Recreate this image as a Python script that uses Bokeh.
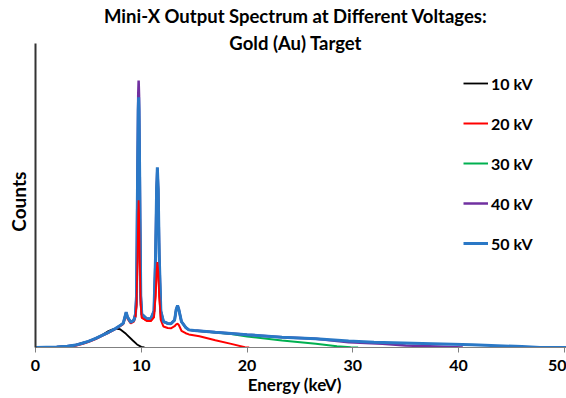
from bokeh.plotting import figure
from bokeh.models import Range1d, Legend, LegendItem, Label, FixedTicker
from bokeh.embed import file_html
from bokeh.resources import INLINE

# ---- data (energy in keV, counts in arbitrary units) ----
e_10kv = [0.0, 1.0, 2.0, 3.0, 3.8, 4.5, 5.0, 5.7, 6.3, 6.9, 7.3, 7.6, 8.0, 8.55, 9.2, 9.6, 10.0, 10.3]
c_10kv = [0.0, 0.1, 0.2, 0.4, 0.8, 1.5, 2.0, 3.0, 4.1, 5.4, 6.0, 6.2, 6.0, 4.5, 2.3, 1.0, 0.2, 0.0]

e_20kv = [0.0, 1.0, 2.0, 3.0, 3.8, 4.5, 5.0, 5.7, 6.3, 6.9, 7.6, 8.0, 8.3, 8.45, 8.57, 8.7, 9.0, 9.3,
          9.45, 9.55, 9.65, 9.71, 9.75, 9.79, 9.85, 9.95, 10.05, 10.5, 10.9, 11.2, 11.35, 11.45, 11.52,
          11.6, 11.7, 11.85, 12.1, 12.5, 12.8, 13.15, 13.3, 13.43, 13.55, 13.8, 14.2, 14.5, 15.5, 17.0,
          18.5, 19.8, 20.2]
c_20kv = [0.0, 0.0, 0.1, 0.2, 0.6, 1.2, 1.8, 2.8, 3.8, 4.8, 6.1, 7.0, 7.7, 9.5, 11.0, 9.5, 7.9, 8.5,
          10.0, 14.0, 30.0, 44.0, 48.4, 44.0, 30.0, 14.0, 9.8, 8.8, 8.7, 10.0, 17.0, 25.0, 28.1,
          25.0, 17.0, 9.0, 6.9, 6.4, 6.3, 7.0, 7.6, 7.8, 7.4, 5.5, 4.7, 4.3, 3.7, 2.4,
          1.2, 0.1, 0.0]

e_30kv = [0.0, 1.0, 2.0, 3.0, 3.8, 4.5, 5.0, 5.7, 6.3, 6.9, 7.6, 8.0, 8.3, 8.45, 8.57, 8.7, 9.0, 9.3,
          9.45, 9.55, 9.65, 9.71, 9.75, 9.79, 9.85, 9.95, 10.05, 10.5, 10.9, 11.2, 11.35, 11.45, 11.52,
          11.6, 11.7, 11.85, 12.1, 12.5, 12.8, 13.15, 13.3, 13.43, 13.55, 13.8, 14.2, 14.5, 15.0, 17.0,
          18.5, 20.0, 23.3, 26.5, 28.5, 29.8, 30.5]
c_30kv = [0.0, 0.1, 0.2, 0.4, 0.8, 1.5, 2.0, 3.0, 4.0, 5.0, 6.3, 7.2, 8.0, 10.0, 11.5, 10.0, 8.3, 9.0,
          11.0, 17.0, 55.0, 76.0, 80.0, 76.0, 55.0, 17.0, 11.0, 9.5, 9.4, 12.0, 30.0, 52.0, 58.0,
          52.0, 30.0, 12.0, 8.5, 7.9, 7.8, 9.0, 12.5, 13.5, 12.5, 8.5, 6.6, 5.8, 5.6, 4.9,
          4.4, 3.6, 2.3, 1.2, 0.4, 0.05, 0.0]

e_40kv = [0.0, 1.0, 2.0, 3.0, 3.8, 4.5, 5.0, 5.7, 6.3, 6.9, 7.6, 8.0, 8.3, 8.45, 8.57, 8.7, 9.0, 9.3,
          9.45, 9.55, 9.65, 9.71, 9.75, 9.79, 9.85, 9.95, 10.05, 10.5, 10.9, 11.2, 11.35, 11.45, 11.52,
          11.6, 11.7, 11.85, 12.1, 12.5, 12.8, 13.15, 13.3, 13.43, 13.55, 13.8, 14.2, 14.5, 15.0, 17.0,
          20.0, 23.3, 26.5, 29.6, 32.8, 35.0, 38.0, 40.4]
c_40kv = [0.0, 0.1, 0.2, 0.4, 0.8, 1.5, 2.0, 3.0, 4.0, 5.0, 6.3, 7.2, 8.0, 10.0, 11.6, 10.0, 8.3, 9.0,
          11.0, 17.0, 60.0, 83.0, 87.8, 83.0, 60.0, 17.0, 11.0, 9.5, 9.4, 12.0, 30.0, 52.0, 59.0,
          52.0, 30.0, 12.0, 8.5, 7.9, 7.8, 9.0, 12.5, 13.8, 12.5, 8.5, 6.6, 5.8, 5.6, 5.0,
          4.2, 3.4, 2.85, 1.7, 1.2, 0.66, 0.3, 0.0]

e_50kv = [0.0, 1.0, 2.0, 3.0, 3.8, 4.5, 5.0, 5.7, 6.3, 6.9, 7.6, 8.0, 8.3, 8.45, 8.57, 8.7, 9.0, 9.3,
          9.45, 9.55, 9.65, 9.71, 9.75, 9.79, 9.85, 9.95, 10.05, 10.5, 10.9, 11.2, 11.35, 11.45, 11.52,
          11.6, 11.7, 11.85, 12.1, 12.5, 12.8, 13.15, 13.3, 13.43, 13.55, 13.8, 14.2, 14.5, 15.0, 17.0,
          20.0, 23.3, 26.5, 29.6, 32.0, 36.6, 41.3, 46.0, 47.7, 52.0]
c_50kv = [0.0, 0.1, 0.2, 0.4, 0.8, 1.5, 2.0, 3.0, 4.0, 5.0, 6.3, 7.2, 8.0, 10.0, 11.6, 10.0, 8.3, 9.0,
          11.0, 17.0, 56.0, 78.0, 82.3, 78.0, 56.0, 17.0, 11.0, 9.5, 9.4, 12.0, 30.0, 52.0, 59.3,
          52.0, 30.0, 12.0, 8.5, 7.9, 7.8, 9.0, 12.5, 13.8, 12.5, 8.5, 6.6, 5.8, 5.6, 5.0,
          4.2, 3.4, 2.9, 2.1, 1.7, 1.3, 0.9, 0.3, 0.0, 0.0]

series_labels = ["10 kV", "20 kV", "30 kV", "40 kV", "50 kV"]
x_ticks = [0, 10, 20, 30, 40, 50]
title_lines = ["Mini-X Output Spectrum at Different Voltages:", "Gold (Au) Target"]

FONT = "Lato"

p = figure(width=566, height=398, output_backend="svg", toolbar_location=None,
           x_range=Range1d(0, 50.2), y_range=Range1d(0, 114.14),
           min_border_left=35, min_border_right=0, min_border_top=0, min_border_bottom=51)
p.outline_line_color = None
p.xgrid.visible = False
p.ygrid.visible = False
p.background_fill_color = "white"

r10 = p.line(e_10kv, c_10kv, line_color="#000000", line_width=1.8)
r20 = p.line(e_20kv, c_20kv, line_color="#FF0000", line_width=2)
r30 = p.line(e_30kv, c_30kv, line_color="#00B050", line_width=2)
r40 = p.line(e_40kv, c_40kv, line_color="#7030A0", line_width=2.5)
r50 = p.line(e_50kv, c_50kv, line_color="#2A78C6", line_width=3)
# the 20 kV fluorescence peaks show in front of the other curves
p.line(e_20kv[18:36], c_20kv[18:36], line_color="#FF0000", line_width=1.8)

# axes
xa = p.xaxis[0]
xa.ticker = FixedTicker(ticks=x_ticks)
xa.minor_tick_line_color = None
xa.major_tick_out = 5
xa.major_tick_in = 0
xa.axis_line_color = "#808080"
xa.major_tick_line_color = "#808080"
xa.major_label_text_font = FONT
xa.major_label_text_font_style = "bold"
xa.major_label_text_font_size = "16px"
xa.major_label_text_color = "#000000"
xa.major_label_standoff = 7
xa.axis_label = "Energy (keV)" + "\u00a0" * 3
xa.axis_label_text_font = FONT
xa.axis_label_text_font_style = "bold"
xa.axis_label_text_font_size = "17px"
xa.axis_label_text_color = "#000000"
xa.axis_label_standoff = 0

ya = p.yaxis[0]
ya.ticker = FixedTicker(ticks=[])
ya.bounds = (0, 100)
ya.minor_tick_line_color = None
ya.major_tick_line_color = None
ya.axis_line_color = "#333333"
ya.axis_line_width = 2
ya.axis_label = "Counts" + "\u00a0" * 12
ya.axis_label_text_font = FONT
ya.axis_label_text_font_style = "bold"
ya.axis_label_text_font_size = "19px"
ya.axis_label_text_color = "#000000"
ya.axis_label_standoff = 6

legend = Legend(items=[LegendItem(label=lab, renderers=[r]) for lab, r in
                       zip(series_labels, [r10, r20, r30, r40, r50])],
                location=(428, 94))
legend.border_line_color = None
legend.background_fill_alpha = 0
legend.padding = 0
legend.margin = 0
legend.spacing = 20
legend.glyph_height = 20
legend.glyph_width = 25
legend.label_height = 20
legend.label_standoff = 3
legend.label_text_font = FONT
legend.label_text_font_style = "bold"
legend.label_text_font_size = "16px"
legend.label_text_color = "#000000"
p.add_layout(legend, "center")

for txt, yv in zip(title_lines, [108.9, 100.2]):
    p.add_layout(Label(x=24.6, y=yv, text=txt, text_align="center", text_baseline="middle",
                       text_font=FONT, text_font_style="bold", text_font_size="18.5px",
                       text_color="#000000"))

open("out.html", "w").write(file_html(p, INLINE))
